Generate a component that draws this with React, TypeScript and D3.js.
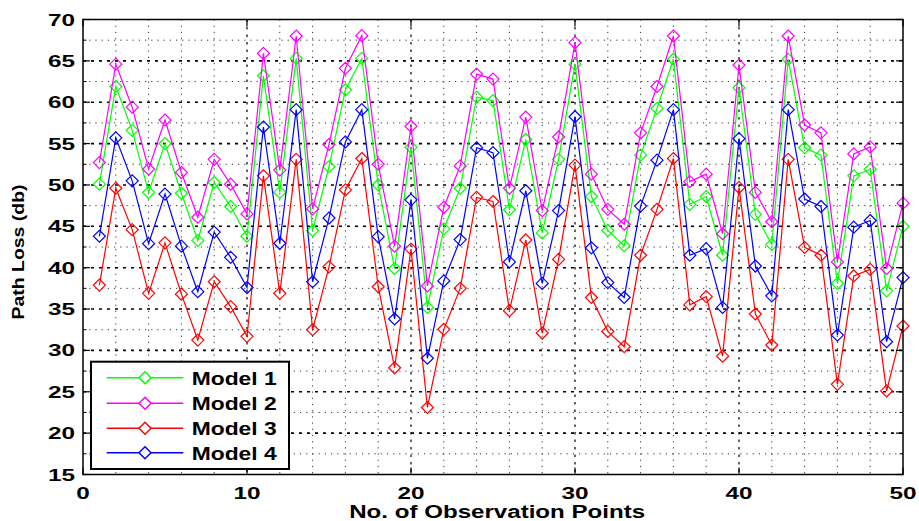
import React from "react";
import * as d3 from "d3";

// Path loss predicted by four models at each observation point
const points: number[] = d3.range(1, 51);

const model1: number[] = [
  50.1, 61.9, 56.6, 49.1, 55.0, 49.0, 43.3, 50.3, 47.4, 43.8,
  63.2, 49.1, 65.3, 44.5, 52.2, 61.5, 65.3, 50.0, 39.9, 54.55,
  35.2, 44.7, 49.6, 60.6, 60.2, 47.0, 55.5, 44.2, 53.1, 64.6,
  48.6, 44.5, 42.65, 53.6, 59.25, 65.2, 47.65, 48.6, 41.5, 61.75,
  46.45, 42.8, 65.2, 54.5, 53.6, 38.1, 51.1, 51.9, 37.2, 45.0,
];

const model2: number[] = [
  52.7, 64.6, 59.4, 51.9, 57.85, 51.5, 46.1, 53.1, 50.1, 46.5,
  65.9, 51.8, 68.0, 47.1, 54.9, 64.1, 68.05, 52.5, 42.6, 57.1,
  37.8, 47.3, 52.3, 63.4, 62.8, 49.6, 58.2, 46.9, 55.8, 67.2,
  51.3, 47.05, 45.25, 56.3, 61.9, 68.0, 50.4, 51.3, 44.1, 64.5,
  49.1, 45.55, 68.0, 57.25, 56.3, 40.7, 53.75, 54.6, 39.9, 47.8,
];

const model3: number[] = [
  37.9, 49.6, 44.6, 36.9, 43.0, 36.8, 31.25, 38.3, 35.3, 31.7,
  51.1, 36.9, 53.1, 32.5, 40.1, 49.4, 53.2, 37.7, 27.9, 42.25,
  23.1, 32.55, 37.5, 48.5, 48.0, 34.8, 43.35, 32.1, 41.0, 52.4,
  36.4, 32.3, 30.45, 41.5, 47.05, 53.2, 35.5, 36.5, 29.3, 49.7,
  34.4, 30.65, 53.1, 42.45, 41.5, 25.9, 39.0, 39.8, 25.1, 32.95,
];

const model4: number[] = [
  43.8, 55.7, 50.5, 42.9, 48.9, 42.6, 37.1, 44.3, 41.25, 37.6,
  57.0, 42.95, 59.1, 38.3, 46.0, 55.2, 59.1, 43.75, 33.8, 48.2,
  29.05, 38.4, 43.4, 54.5, 53.9, 40.7, 49.3, 38.1, 46.9, 58.25,
  42.4, 38.2, 36.4, 47.45, 53.0, 59.1, 41.5, 42.3, 35.2, 55.6,
  40.2, 36.6, 59.1, 48.3, 47.4, 31.85, 44.9, 45.7, 31.05, 38.8,
];

const seriesNames: string[] = ["Model 1", "Model 2", "Model 3", "Model 4"];
const seriesColors: string[] = ["#00ff00", "#ff00ff", "#ff0000", "#0000ff"];
const seriesValues: number[][] = [model1, model2, model3, model4];

const xTicks: number[] = [0, 10, 20, 30, 40, 50];
const yTicks: number[] = [15, 20, 25, 30, 35, 40, 45, 50, 55, 60, 65, 70];
const xMinorGrid: number[] = d3.range(2, 50, 2).filter((v) => v % 10 !== 0);
const yMinorGrid: number[] = d3.range(17.5, 70, 5);

const xLabel = "No. of Observation Points";
const yLabel = "Path Loss (db)";

const W = 919;
const H = 521;
const L = 83;
const R = 903;
const T = 19.5;
const B = 474.5;

const FONT = "'Liberation Sans', Arial, Helvetica, sans-serif";

const x = d3.scaleLinear().domain([0, 50]).range([L, R]);
const y = d3.scaleLinear().domain([15, 70]).range([B, T]);

const diamond = (cx: number, cy: number, r = 6) =>
  `M${cx},${cy - r}L${cx + r},${cy}L${cx},${cy + r}L${cx - r},${cy}Z`;

export default function App() {
  const line = d3
    .line<number>()
    .x((_, i) => x(points[i]))
    .y((d) => y(d));

  const legendX0 = 91;
  const legendY0 = 361.7;
  const legendW = 198;
  const legendH = 107.3;
  const legendRows = [377.7, 403.3, 428.3, 452.7];

  return (
    <svg
      width={W}
      height={H}
      style={{ position: "absolute", left: 0, top: 0, background: "#fff" }}
    >
      <rect x={0} y={0} width={W} height={H} fill="#fff" />

      {/* minor grid */}
      {xMinorGrid.map((v) => (
        <line
          key={"xm" + v}
          x1={x(v)}
          x2={x(v)}
          y1={T}
          y2={B}
          stroke="#333"
          strokeWidth={1}
          strokeDasharray="1.2,5"
        />
      ))}
      {yMinorGrid.map((v) => (
        <line
          key={"ym" + v}
          x1={L}
          x2={R}
          y1={y(v)}
          y2={y(v)}
          stroke="#333"
          strokeWidth={1}
          strokeDasharray="1.2,5"
        />
      ))}
      {/* major grid */}
      {xTicks.slice(1, -1).map((v) => (
        <line
          key={"xg" + v}
          x1={x(v)}
          x2={x(v)}
          y1={T}
          y2={B}
          stroke="#000"
          strokeWidth={1.2}
          strokeDasharray="2.5,5"
        />
      ))}
      {yTicks.slice(1, -1).map((v) => (
        <line
          key={"yg" + v}
          x1={L}
          x2={R}
          y1={y(v)}
          y2={y(v)}
          stroke="#000"
          strokeWidth={1.6}
          strokeDasharray="3,5"
        />
      ))}

      {/* series */}
      {seriesValues.map((vals, si) => (
        <g key={"s" + si}>
          <path
            d={line(vals) || ""}
            fill="none"
            stroke={seriesColors[si]}
            strokeWidth={1.2}
          />
          {vals.map((v, i) => (
            <path
              key={i}
              d={diamond(x(points[i]), y(v))}
              fill="none"
              stroke={seriesColors[si]}
              strokeWidth={1.2}
            />
          ))}
        </g>
      ))}

      {/* axes box and ticks */}
      <rect
        x={L}
        y={T}
        width={R - L}
        height={B - T}
        fill="none"
        stroke="#000"
        strokeWidth={1.5}
      />
      {xTicks.map((v) => (
        <g key={"xt" + v}>
          <line x1={x(v)} x2={x(v)} y1={B} y2={B - 7} stroke="#000" strokeWidth={1.2} />
          <line x1={x(v)} x2={x(v)} y1={T} y2={T + 7} stroke="#000" strokeWidth={1.2} />
        </g>
      ))}
      {yTicks.map((v) => (
        <g key={"yt" + v}>
          <line x1={L} x2={L + 7} y1={y(v)} y2={y(v)} stroke="#000" strokeWidth={1.2} />
          <line x1={R} x2={R - 7} y1={y(v)} y2={y(v)} stroke="#000" strokeWidth={1.2} />
        </g>
      ))}
      {yMinorGrid.map((v) => (
        <g key={"ymt" + v}>
          <line x1={L} x2={L + 3.5} y1={y(v)} y2={y(v)} stroke="#000" strokeWidth={1} />
          <line x1={R} x2={R - 3.5} y1={y(v)} y2={y(v)} stroke="#000" strokeWidth={1} />
        </g>
      ))}

      {/* tick labels */}
      {xTicks.map((v) => {
        const s = String(v);
        return (
          <text
            key={"xl" + v}
            x={x(v)}
            y={498.7}
            textAnchor="middle"
            fontFamily={FONT}
            fontWeight="bold"
            fontSize={16}
            textLength={s.length * 13.5}
            lengthAdjust="spacingAndGlyphs"
          >
            {s}
          </text>
        );
      })}
      {yTicks.map((v) => {
        const s = String(v);
        return (
          <text
            key={"yl" + v}
            x={75}
            y={y(v) + 6}
            textAnchor="end"
            fontFamily={FONT}
            fontWeight="bold"
            fontSize={16}
            textLength={s.length * 13.5}
            lengthAdjust="spacingAndGlyphs"
          >
            {s}
          </text>
        );
      })}

      {/* axis titles */}
      <text
        x={497.2}
        y={517.5}
        textAnchor="middle"
        fontFamily={FONT}
        fontWeight="bold"
        fontSize={18}
        textLength={296}
        lengthAdjust="spacingAndGlyphs"
      >
        {xLabel}
      </text>
      <text
        transform="translate(24,252) rotate(-90)"
        textAnchor="middle"
        fontFamily={FONT}
        fontWeight="bold"
        fontSize={16}
        textLength={135}
        lengthAdjust="spacingAndGlyphs"
      >
        {yLabel}
      </text>

      {/* legend */}
      <rect
        x={legendX0}
        y={legendY0}
        width={legendW}
        height={legendH}
        fill="#fff"
        stroke="#000"
        strokeWidth={2}
      />
      {seriesNames.map((name, i) => (
        <g key={"lg" + i}>
          <line
            x1={106.7}
            x2={183.3}
            y1={legendRows[i]}
            y2={legendRows[i]}
            stroke={seriesColors[i]}
            strokeWidth={1.5}
          />
          <path
            d={diamond(145, legendRows[i])}
            fill="#fff"
            stroke={seriesColors[i]}
            strokeWidth={1.5}
          />
          <text
            x={191.7}
            y={legendRows[i] + 7}
            fontFamily={FONT}
            fontWeight="bold"
            fontSize={18.5}
            textLength={85}
            lengthAdjust="spacingAndGlyphs"
          >
            {name}
          </text>
        </g>
      ))}
    </svg>
  );
}
